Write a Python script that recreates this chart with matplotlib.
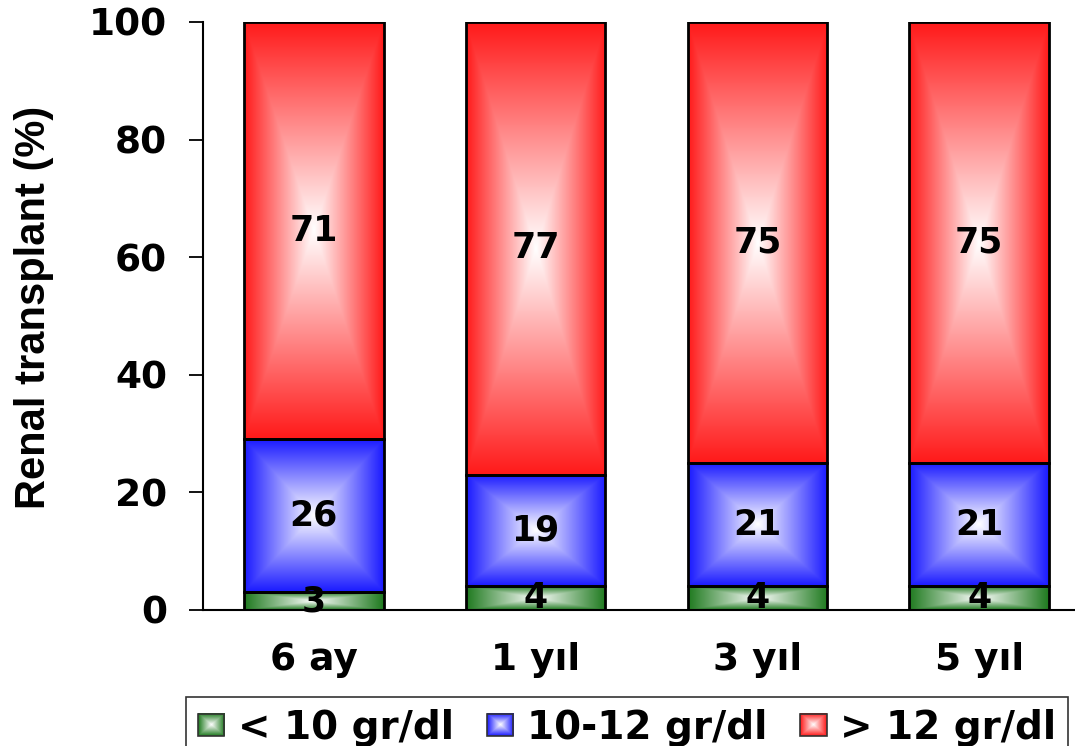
import numpy as np
import matplotlib
matplotlib.use("Agg")
import matplotlib.pyplot as plt
from matplotlib.patches import Rectangle
from matplotlib.image import BboxImage
from matplotlib.transforms import Bbox, TransformedBbox
from matplotlib.legend_handler import HandlerBase

categories = ["6 ay", "1 yıl", "3 yıl", "5 yıl"]
low = [3, 4, 4, 4]          # < 10 gr/dl
mid = [26, 19, 21, 21]      # 10-12 gr/dl
high = [71, 77, 75, 75]     # > 12 gr/dl
series_labels = ["< 10 gr/dl", "10-12 gr/dl", "> 12 gr/dl"]
series_colors = ["#1f7a1f", "#1a1aff", "#ff1a1a"]
yticks = [0, 20, 40, 60, 80, 100]

FONT = "DejaVu Sans"


def box_gradient(color, nx=200, ny=200):
    """Rectangular gradient: white in the centre, full colour at the edges."""
    rgb = np.array(matplotlib.colors.to_rgb(color))
    u = np.linspace(-1, 1, nx)
    v = np.linspace(-1, 1, ny)
    U, V = np.meshgrid(u, v)
    t = np.maximum(np.abs(U), np.abs(V))
    t = np.clip(t, 0, 1)[..., None]
    img = (1 - t) * np.ones(3) + t * rgb
    return img


fig = plt.figure(figsize=(10.75, 7.46), dpi=100)
ax = fig.add_axes([203 / 1075, 1 - 610 / 746, 887 / 1075, (610 - 22) / 746])

x = np.arange(len(categories))
width = 0.63
bottom = np.zeros(len(categories))
for vals, color in zip([low, mid, high], series_colors):
    bars = ax.bar(x, vals, width, bottom=bottom, facecolor="none",
                  edgecolor="black", linewidth=2, zorder=3)
    for rect, v in zip(bars, vals):
        x0, y0 = rect.get_x(), rect.get_y()
        w, h = rect.get_width(), rect.get_height()
        ax.imshow(box_gradient(color), extent=(x0, x0 + w, y0, y0 + h),
                  aspect="auto", interpolation="bilinear", zorder=2,
                  origin="lower")
        ax.text(x0 + w / 2, y0 + h / 2, str(v), ha="center", va="center",
                fontsize=25, fontweight="bold", family=FONT, zorder=4)
    bottom += np.array(vals)

ax.set_xlim(-0.5, len(categories) - 0.5)
ax.set_ylim(0, 100)
ax.set_yticks(yticks)
ax.set_yticklabels([str(t) for t in yticks], fontsize=27, fontweight="bold",
                   family=FONT)
ax.set_xticks(x)
ax.set_xticklabels(categories, fontsize=27, fontweight="bold", family=FONT)
ax.tick_params(axis="x", length=0, pad=23)
ax.tick_params(axis="y", length=10, width=1.3, pad=16)
for s in ["top", "right"]:
    ax.spines[s].set_visible(False)
ax.spines["left"].set_linewidth(1.5)
ax.spines["bottom"].set_linewidth(1.5)
ax.spines["bottom"].set_clip_on(False)

fig.text(34 / 1075, 1 - 307 / 746, "Renal transplant (%)", rotation=90,
         ha="center", va="center", fontsize=30, fontweight="bold",
         family="Liberation Sans")


class GradientHandler(HandlerBase):
    def __init__(self, color, w=19, h=16):
        super().__init__()
        self.color = color
        self.w = w
        self.h = h

    def create_artists(self, legend, orig_handle, xdescent, ydescent, width,
                       height, fontsize, trans):
        x0 = -xdescent + (width - self.w) / 2
        y0 = -ydescent + (height - self.h) / 2
        bb = TransformedBbox(Bbox.from_bounds(x0, y0, self.w, self.h), trans)
        img = BboxImage(bb, interpolation="bilinear")
        img.set_data(box_gradient(self.color, 40, 40))
        rect = Rectangle((x0, y0), self.w, self.h, facecolor="none",
                         edgecolor="#333333", linewidth=1.2, transform=trans)
        return [img, rect]


handles = [Rectangle((0, 0), 1, 1) for _ in series_labels]
leg = fig.legend(handles, series_labels,
                 handler_map={h: GradientHandler(c) for h, c in zip(handles, series_colors)},
                 loc="upper left", bbox_to_anchor=(186 / 1075, 1 - 697 / 746),
                 ncol=3, frameon=True, fancybox=False, edgecolor="black",
                 prop={"family": FONT, "weight": "bold", "size": 28},
                 handlelength=0.68, handleheight=0.6, handletextpad=0.35,
                 columnspacing=0.85, borderpad=0.3, borderaxespad=0)
leg.get_frame().set_linewidth(1.2)

fig.savefig("out.png", dpi=100)
